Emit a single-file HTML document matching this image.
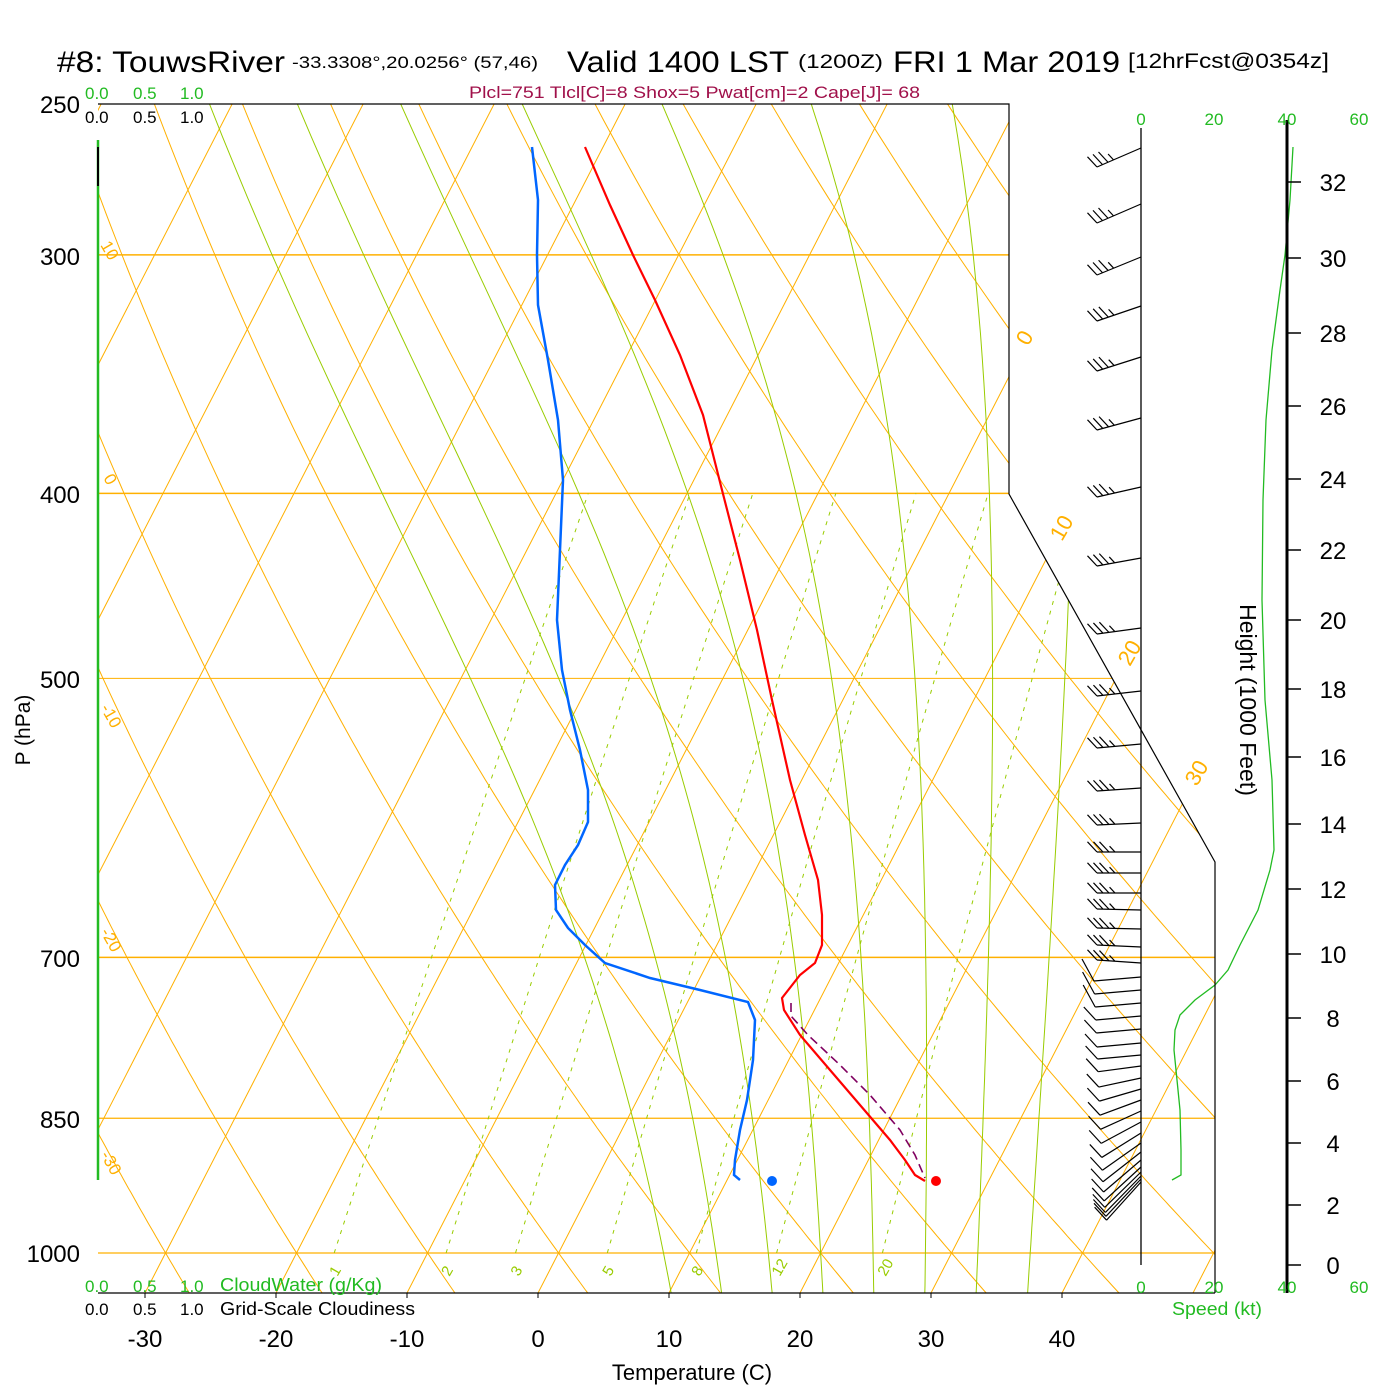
<!DOCTYPE html>
<html><head><meta charset="utf-8">
<style>
html,body{margin:0;padding:0;background:#fff;}
svg{display:block;font-family:"Liberation Sans",sans-serif;}
</style></head>
<body>
<svg id="s" width="1400" height="1400" viewBox="0 0 1400 1400" xmlns="http://www.w3.org/2000/svg">
<defs>
<clipPath id="cp"><path d="M98,104 L1009,104 L1009,494 L1215,862 L1215,1293 L98,1293 Z"/></clipPath>
</defs>
<rect width="1400" height="1400" fill="#fff"/>
<g id="grid" clip-path="url(#cp)"></g>
<g id="prof"></g>
<g id="barbs" stroke="#000" stroke-width="1.2" fill="none"></g>
<path d="M98,104 L1009,104 L1009,494 L1215,862 L1215,1293" stroke="#000" stroke-width="1.2" fill="none"/>
<line x1="98" y1="1293" x2="1215" y2="1293" stroke="#000" stroke-width="1.2"/>
<line x1="98" y1="140" x2="98" y2="1180" stroke="#22bb22" stroke-width="2.5"/>
<line x1="98" y1="147" x2="98" y2="186" stroke="#000" stroke-width="2"/>
<line x1="1141" y1="128" x2="1141" y2="1265" stroke="#000" stroke-width="1.3"/>
<line x1="1287" y1="120" x2="1287" y2="1293" stroke="#000" stroke-width="3"/>
<g id="hticks" stroke="#000" stroke-width="1.5"></g>
<g id="txt"></g>
<text x="57" y="72" font-size="30" textLength="228" lengthAdjust="spacingAndGlyphs">#8: TouwsRiver</text>
<text x="292" y="68" font-size="17" textLength="246" lengthAdjust="spacingAndGlyphs">-33.3308°,20.0256° (57,46)</text>
<text x="567" y="72" font-size="30" textLength="222" lengthAdjust="spacingAndGlyphs">Valid 1400 LST</text>
<text x="798" y="68" font-size="19" textLength="85" lengthAdjust="spacingAndGlyphs">(1200Z)</text>
<text x="893" y="72" font-size="30" textLength="227" lengthAdjust="spacingAndGlyphs">FRI 1 Mar 2019</text>
<text x="1128" y="68" font-size="21" textLength="201" lengthAdjust="spacingAndGlyphs">[12hrFcst@0354z]</text>
<text x="469" y="98" font-size="17" fill="#a0104a" textLength="451" lengthAdjust="spacingAndGlyphs">Plcl=751 Tlcl[C]=8 Shox=5 Pwat[cm]=2 Cape[J]= 68</text>
<g font-size="17" fill="#22bb22"><text x="85" y="99">0.0</text><text x="133" y="99">0.5</text><text x="180" y="99">1.0</text>
<text x="85" y="1292">0.0</text><text x="133" y="1292">0.5</text><text x="180" y="1292">1.0</text>
<text x="220" y="1291" font-size="18" textLength="162" lengthAdjust="spacingAndGlyphs">CloudWater (g/Kg)</text>
<text x="1172" y="1315" font-size="18" textLength="90" lengthAdjust="spacingAndGlyphs">Speed (kt)</text>
<text x="1141" y="125" text-anchor="middle">0</text><text x="1214" y="125" text-anchor="middle">20</text><text x="1287" y="125" text-anchor="middle">40</text><text x="1359" y="125" text-anchor="middle">60</text>
<text x="1141" y="1293" text-anchor="middle">0</text><text x="1214" y="1293" text-anchor="middle">20</text><text x="1287" y="1293" text-anchor="middle">40</text><text x="1359" y="1293" text-anchor="middle">60</text>
</g>
<g font-size="17" fill="#000"><text x="85" y="123">0.0</text><text x="133" y="123">0.5</text><text x="180" y="123">1.0</text>
<text x="85" y="1315">0.0</text><text x="133" y="1315">0.5</text><text x="180" y="1315">1.0</text>
<text x="220" y="1315" font-size="18" textLength="195" lengthAdjust="spacingAndGlyphs">Grid-Scale Cloudiness</text></g>
<text x="692" y="1380" font-size="22" text-anchor="middle">Temperature (C)</text>
<text transform="translate(30,730) rotate(-90)" font-size="21" text-anchor="middle">P (hPa)</text>
<text transform="translate(1240,700) rotate(90)" font-size="23" text-anchor="middle">Height (1000 Feet)</text>
<script>
(function(){
var NS="http://www.w3.org/2000/svg";
function el(par,tag,at,txt){var e=document.createElementNS(NS,tag);for(var k in at)e.setAttribute(k,at[k]);if(txt!==undefined)e.textContent=txt;par.appendChild(e);return e;}
function Y(p){return 1253-829*Math.log(1000/p);}
function X(T,p){return 538+13.1*T+0.514*(1293-Y(p));}
var g=document.getElementById('grid');
var OR="#ffb000", GR="#99cc00";
var ps=[];for(var p=1060;p>=240;p-=5)ps.push(p);
[[250,1.5],[300,1.5],[400,1.5],[500,1],[700,1.5],[850,1.2],[1000,1.2]].forEach(function(a){var y=Y(a[0]);el(g,'line',{x1:98,y1:y,x2:1215,y2:y,stroke:OR,'stroke-width':a[1]});});
for(var T=-130;T<=60;T+=10){el(g,'line',{x1:X(T,1060),y1:Y(1060),x2:X(T,240),y2:Y(240),stroke:OR,'stroke-width':1});}
for(var th=-60;th<=220;th+=10){var d="";ps.forEach(function(p,i){var t=(th+273.15)*Math.pow(p/1000,0.286)-273.15;d+=(i?"L":"M")+X(t,p).toFixed(1)+","+Y(p).toFixed(1);});el(g,'path',{d:d,stroke:OR,'stroke-width':1,fill:'none'});}
function es(t){return 6.112*Math.exp(17.67*t/(t+243.5));}
function dTdp(t,p){var T=t+273.15,rs=0.622*es(t)/(p-es(t)),Rd=287,Lv=2.5e6,cp=1004;return (Rd*T+Lv*rs)/(cp+Lv*Lv*rs*0.622/(Rd*T*T))/p;}
[8,12,16,20,24,28,32,36].forEach(function(t0){
 var td=t0,pd=1000;while(pd<1060){td+=dTdp(td,pd)*5;pd+=5;}
 var t=td,p=1060;var d="M"+X(t,p).toFixed(1)+","+Y(p).toFixed(1);
 while(p>240){var h=-2;var k1=dTdp(t,p),k2=dTdp(t+k1*h/2,p+h/2),k3=dTdp(t+k2*h/2,p+h/2),k4=dTdp(t+k3*h,p+h);t+=h*(k1+2*k2+2*k3+k4)/6;p+=h;if(p%10==0)d+="L"+X(t,p).toFixed(1)+","+Y(p).toFixed(1);}
 el(g,'path',{d:d,stroke:GR,'stroke-width':1,fill:'none'});
});
[1,2,3,5,8,12,20].forEach(function(w){var d="";var i=0;for(var p=1000;p>=400;p-=10){var e=w*p/(622+w),l=Math.log(e/6.112),t=243.5*l/(17.67-l);d+=(i++?"L":"M")+X(t,p).toFixed(1)+","+Y(p).toFixed(1);}
 el(g,'path',{d:d,stroke:GR,'stroke-width':1,fill:'none','stroke-dasharray':'4,6'});
 var e=w*1000/(622+w),l=Math.log(e/6.112),t=243.5*l/(17.67-l);
 el(document.getElementById('txt'),'text',{x:X(t,1000)-2,y:1280,'font-size':15,fill:GR,transform:'rotate(-60 '+(X(t,1000)-2)+' 1274)'},String(w));
});
var tx=document.getElementById('txt');
[[0,1025,345],[10,1062,535],[20,1130,660],[30,1197,780]].forEach(function(a){el(tx,'text',{x:a[1],y:a[2],'font-size':22,fill:OR,'text-anchor':'middle',transform:'rotate(-60 '+a[1]+' '+(a[2]-7)+')'},String(a[0]));});
[[10,100,245],[0,103,478],[-10,100,708],[-20,100,932],[-30,100,1155]].forEach(function(a){el(tx,'text',{x:a[1],y:a[2],'font-size':17,fill:OR,transform:'rotate(60 '+a[1]+' '+a[2]+')'},String(a[0]));});
[[250,104],[300,256],[400,494],[500,679],[700,958],[850,1119],[1000,1253]].forEach(function(a){el(tx,'text',{x:80,y:a[1]+9,'font-size':24,'text-anchor':'end'},String(a[0]));});
[-30,-20,-10,0,10,20,30,40].forEach(function(t){el(tx,'text',{x:538+13.1*t,y:1347,'font-size':24,'text-anchor':'middle'},String(t));
 el(tx,'line',{x1:538+13.1*t,y1:1293,x2:538+13.1*t,y2:1298,stroke:'#000'});});
var hy={0:1265,2:1205,4:1143,6:1081,8:1018,10:954,12:889,14:824,16:757,18:689,20:620,22:550,24:479,26:406,28:333,30:258,32:182};
var ht=document.getElementById('hticks');
for(var h in hy){el(ht,'line',{x1:1287,y1:hy[h],x2:1301,y2:hy[h]});el(tx,'text',{x:1333,y:hy[h]+9,'font-size':24,'text-anchor':'middle'},String(h));}
var pr=document.getElementById('prof');
function poly(pts,at){var d=pts.map(function(q,i){return (i?"L":"M")+q[0]+","+q[1];}).join("");at.d=d;at.fill='none';el(pr,'path',at);}
poly([[1293,147],[1290,200],[1285,255],[1280,290],[1272,350],[1266,420],[1263,500],[1262,600],[1265,700],[1272,780],[1274,850],[1270,870],[1258,910],[1240,945],[1228,970],[1215,985],[1195,1000],[1180,1015],[1175,1030],[1174,1050],[1177,1080],[1180,1110],[1181,1150],[1181,1175],[1172,1180]],{stroke:'#22bb22','stroke-width':1.3});
poly([[791,1003],[791,1016],[808,1035],[840,1065],[870,1095],[900,1130],[915,1155],[925,1178]],{stroke:'#800060','stroke-width':1.6,'stroke-dasharray':'9,5'});
poly([[585,147],[610,205],[633,255],[655,300],[680,355],[703,415],[722,490],[740,560],[757,630],[772,700],[790,780],[805,835],[818,880],[822,915],[822,945],[815,963],[800,975],[782,998],[784,1010],[800,1035],[830,1070],[860,1105],[890,1140],[905,1160],[915,1175],[925,1181]],{stroke:'#ff0000','stroke-width':2.2});
poly([[532,147],[538,200],[537,255],[538,305],[548,360],[558,420],[563,480],[560,550],[557,620],[562,670],[570,710],[580,750],[588,790],[588,822],[578,845],[565,865],[555,885],[556,910],[568,928],[585,945],[605,963],[650,978],[700,990],[748,1002],[755,1020],[753,1060],[747,1100],[740,1130],[735,1160],[734,1175],[740,1180]],{stroke:'#0066ff','stroke-width':2.5});
el(pr,'circle',{cx:772,cy:1181,r:5,fill:'#0066ff'});
el(pr,'circle',{cx:936,cy:1181,r:5,fill:'#ff0000'});
var b=document.getElementById('barbs');
var up=[[148,19],[204,19],[257,18],[306,15],[357,14],[418,12],[487,10],[558,8],[628,6],[691,5],[744,4],[788,3],[823,2],[852,0],[873,0],[893,0],[910,-1],[929,-1],[947,-2],[963,-3]];
up.forEach(function(a){var y=a[0],tx0=1097,ty=y+a[1];el(b,'line',{x1:1141,y1:y,x2:tx0,y2:ty});
 var dx=(1141-tx0),dy=(y-ty),L=Math.sqrt(dx*dx+dy*dy);
 for(var i=0;i<4;i++){var f=(i*6)/L;var px=tx0+dx*f,py=ty+dy*f;var len=i==3?8:14;el(b,'line',{x1:px,y1:py,x2:px-len*0.68,y2:py-len*0.73});}
});
var lo=[977,990,1003,1016,1029,1043,1055,1066,1078,1089,1100,1111,1122,1133,1143,1152,1160,1167,1172,1176,1179,1182];
lo.forEach(function(y,i){var k=Math.max(0,y-1060)*0.28+4;var tx0=1094+i*0.6,ty=y+k;el(b,'line',{x1:1141,y1:y,x2:tx0,y2:ty});el(b,'line',{x1:tx0,y1:ty,x2:tx0-12,y2:ty-(i<3?22:13)});});
})();
</script>
</svg>
</body></html>
